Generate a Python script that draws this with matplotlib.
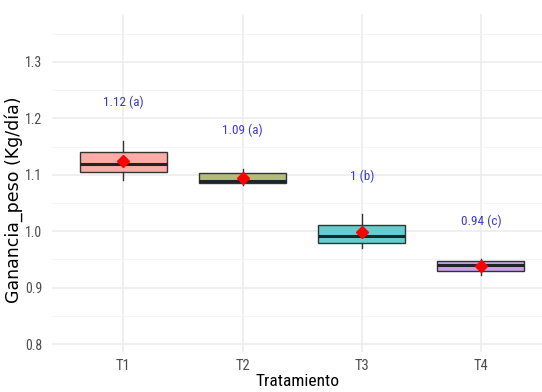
import matplotlib.pyplot as plt
from matplotlib import font_manager
from matplotlib.ticker import MultipleLocator

# box stats
trats = ['T1', 'T2', 'T3', 'T4']
q1 = [1.105, 1.085, 0.980, 0.930]
med = [1.120, 1.089, 0.991, 0.940]
q3 = [1.141, 1.103, 1.011, 0.947]
wlo = [1.090, 1.082, 0.971, 0.922]
whi = [1.160, 1.110, 1.030, 0.950]
medias = [1.124, 1.094, 0.998, 0.938]
etiquetas = ['1.12 (a)', '1.09 (a)', '1 (b)', '0.94 (c)']
colores = ['#fbaca6', '#b3bd78', '#63cdd0', '#c9a2e3']

# narrow font if one is installed
nombres = set(f.name for f in font_manager.fontManager.ttflist)
estrecha = 'Liberation Sans'
for cand in ['Liberation Sans Narrow', 'Roboto Condensed', 'DejaVu Sans Condensed', 'Open Sans Condensed']:
    if cand in nombres:
        estrecha = cand
        break

fig = plt.figure(figsize=(5.42, 3.92), dpi=100, facecolor='w')
ax = fig.add_axes([52/542, 1-352/392, 1-52/542, 338/392])

stats = []
for i in range(len(trats)):
    stats.append(dict(med=med[i], q1=q1[i], q3=q3[i], whislo=wlo[i], whishi=whi[i], label=trats[i]))

pos = list(range(1, len(trats)+1))
bp = ax.bxp(stats, positions=pos, widths=0.73, patch_artist=True, showfliers=False, showcaps=False,
            boxprops=dict(edgecolor='#333333', linewidth=1.0),
            whiskerprops=dict(color='#333333', linewidth=1.0),
            medianprops=dict(color='#1c2626', linewidth=2.2), zorder=3)
for patch, c in zip(bp['boxes'], colores):
    patch.set_facecolor(c)

ax.plot(pos, medias, linestyle='none', marker='D', color='red', markersize=6.5, zorder=5)

for i in range(len(trats)):
    ax.text(pos[i], whi[i] + 0.068, etiquetas[i], ha='center', va='center', color='#3a3ad6',
            fontsize=9.5, family=estrecha)

ax.set_xlim(0.4, 4.513)
ax.set_ylim(0.786, 1.385)
ax.set_xticks(pos)
ax.set_xticklabels(trats)
ax.yaxis.set_minor_locator(MultipleLocator(0.05))
ax.set_yticks([0.8, 0.9, 1.0, 1.1, 1.2, 1.3])
ax.set_yticklabels(['0.8', '0.9', '1.0', '1.1', '1.2', '1.3'])
ax.grid(which='major', color='#ebebeb', linewidth=1.1, zorder=0)
ax.grid(which='minor', axis='y', color='#f2f2f2', linewidth=0.6, zorder=0)
ax.set_axisbelow(True)
for s in ax.spines.values():
    s.set_visible(False)
ax.tick_params(which='both', length=0, colors='#4d4d4d', labelsize=10.5, pad=5)
ax.tick_params(axis='y', labelsize=10, pad=7)
for lab in ax.get_xticklabels() + ax.get_yticklabels():
    lab.set_family(estrecha)

ax.set_ylabel('Ganancia_peso (Kg/día)', fontsize=12.5, family='DejaVu Sans', va='center')
ax.yaxis.set_label_coords(-38/490, (352-200)/338)
ax.set_xlabel('Tratamiento', fontsize=12.5, family=estrecha, va='center')
ax.xaxis.set_label_coords((297-52)/490, -(382-352)/338)

fig.savefig('out.png', dpi=100, facecolor='w')
